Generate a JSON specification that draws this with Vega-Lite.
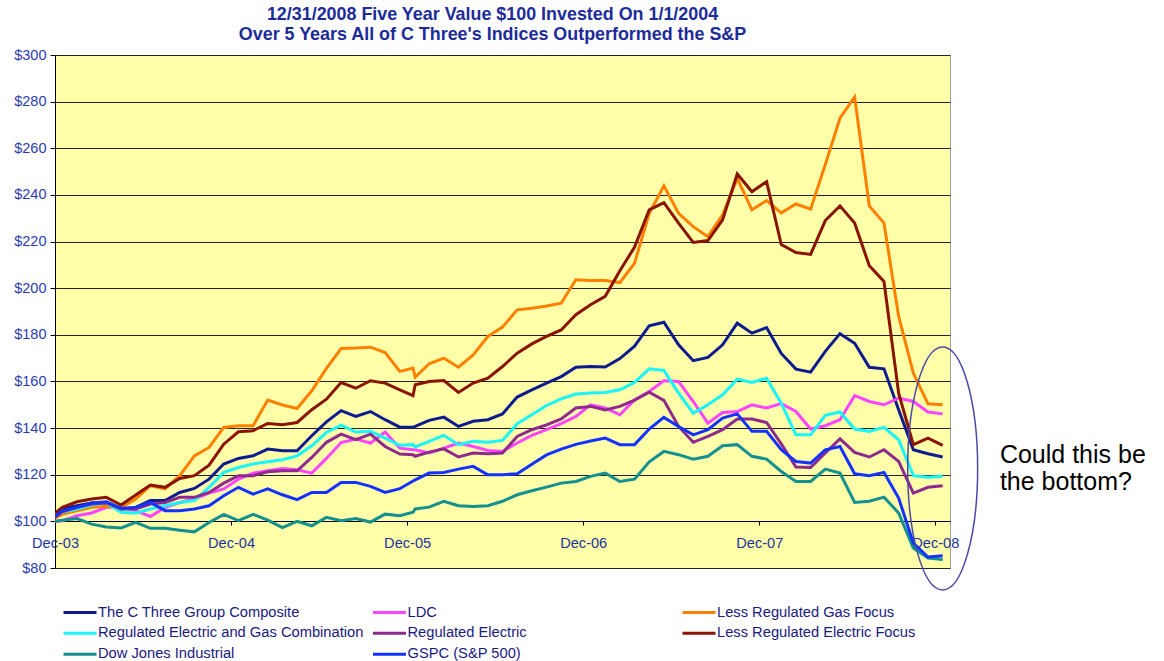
{
"$schema":"https://vega.github.io/schema/vega-lite/v6.json",
"autosize":{"type":"none"},
"width":895,"height":513,
"padding":{"left":55,"top":55,"right":214,"bottom":93},
"background":"white",
"config":{"view":{"fill":"#FFFFAA","stroke":"#A0A0A0","strokeWidth":1},"font":"Liberation Sans"},
"title":{"text":["12/31/2008 Five Year Value $100 Invested On 1/1/2004","Over 5 Years All of C Three's Indices Outperformed the S&P"],"fontSize":17.9,"fontWeight":"bold","color":"#1C2B99","font":"Liberation Sans","lineHeight":20,"offset":3,"dx":-10,"anchor":"middle"},
"datasets":{
"names":[{"k":"C","series":"The C Three Group Composite"},{"k":"L","series":"LDC"},{"k":"G","series":"Less Regulated Gas Focus"},{"k":"R","series":"Regulated Electric and Gas Combination"},{"k":"E","series":"Regulated Electric"},{"k":"F","series":"Less Regulated Electric Focus"},{"k":"D","series":"Dow Jones Industrial"},{"k":"S","series":"GSPC (S&P 500)"}],
"notes":[{"m":60,"v":122.7,"label":["Could this be","the bottom?"],"tm":63.9,"tv":128.6}],
"pts":[
{"k":"C","m":-0.5,"v":103.1},{"k":"C","m":0,"v":105.3},{"k":"C","m":1,"v":106.7},{"k":"C","m":2,"v":107.9},{"k":"C","m":3,"v":108.1},{"k":"C","m":4,"v":105.3},{"k":"C","m":5,"v":106},{"k":"C","m":6,"v":108.9},{"k":"C","m":7,"v":108.9},{"k":"C","m":8,"v":112.4},{"k":"C","m":9,"v":114.1},{"k":"C","m":10,"v":118.1},{"k":"C","m":11,"v":124.6},{"k":"C","m":12,"v":127},{"k":"C","m":13,"v":128.1},{"k":"C","m":14,"v":131},{"k":"C","m":15,"v":130.3},{"k":"C","m":16,"v":130.3},{"k":"C","m":17,"v":136.7},{"k":"C","m":18,"v":142.7},{"k":"C","m":19,"v":147.5},{"k":"C","m":20,"v":145},{"k":"C","m":21,"v":147.1},{"k":"C","m":22,"v":143.6},{"k":"C","m":23,"v":140.4},{"k":"C","m":23.9,"v":140.4},{"k":"C","m":24.05,"v":140.7},{"k":"C","m":25,"v":143.3},{"k":"C","m":26,"v":144.7},{"k":"C","m":27,"v":140.7},{"k":"C","m":28,"v":142.9},{"k":"C","m":29,"v":143.6},{"k":"C","m":30,"v":146.1},{"k":"C","m":31,"v":153.3},{"k":"C","m":32,"v":156.4},{"k":"C","m":33,"v":159.3},{"k":"C","m":34,"v":162.1},{"k":"C","m":35,"v":166.1},{"k":"C","m":36,"v":166.4},{"k":"C","m":37,"v":166.2},{"k":"C","m":38,"v":169.8},{"k":"C","m":39,"v":175.1},{"k":"C","m":40,"v":183.9},{"k":"C","m":41,"v":185.4},{"k":"C","m":42,"v":175.7},{"k":"C","m":43,"v":168.9},{"k":"C","m":44,"v":170.3},{"k":"C","m":45,"v":175.7},{"k":"C","m":46,"v":185},{"k":"C","m":47,"v":180.7},{"k":"C","m":48,"v":183.1},{"k":"C","m":49,"v":172},{"k":"C","m":50,"v":165.3},{"k":"C","m":51,"v":164},{"k":"C","m":52,"v":172.9},{"k":"C","m":53,"v":180.5},{"k":"C","m":54,"v":176.4},{"k":"C","m":55,"v":166.1},{"k":"C","m":56,"v":165.4},{"k":"C","m":57,"v":147.9},{"k":"C","m":58,"v":130.7},{"k":"C","m":59,"v":129},{"k":"C","m":60,"v":127.6},
{"k":"L","m":-0.5,"v":100},{"k":"L","m":0,"v":100.3},{"k":"L","m":1,"v":102.4},{"k":"L","m":2,"v":103.6},{"k":"L","m":3,"v":106},{"k":"L","m":4,"v":106},{"k":"L","m":5,"v":104.6},{"k":"L","m":6,"v":102.1},{"k":"L","m":7,"v":106},{"k":"L","m":8,"v":108.1},{"k":"L","m":9,"v":109.6},{"k":"L","m":10,"v":112.1},{"k":"L","m":11,"v":113.9},{"k":"L","m":12,"v":118.1},{"k":"L","m":13,"v":120.7},{"k":"L","m":14,"v":121.7},{"k":"L","m":15,"v":122.7},{"k":"L","m":16,"v":122.1},{"k":"L","m":17,"v":120.7},{"k":"L","m":18,"v":127},{"k":"L","m":19,"v":133.8},{"k":"L","m":20,"v":135.3},{"k":"L","m":21,"v":133.6},{"k":"L","m":22,"v":138.3},{"k":"L","m":23,"v":131.4},{"k":"L","m":23.9,"v":130.7},{"k":"L","m":24.05,"v":130.7},{"k":"L","m":25,"v":129.3},{"k":"L","m":26,"v":131.4},{"k":"L","m":27,"v":133.6},{"k":"L","m":28,"v":132.1},{"k":"L","m":29,"v":130.4},{"k":"L","m":30,"v":130},{"k":"L","m":31,"v":133.6},{"k":"L","m":32,"v":136.9},{"k":"L","m":33,"v":139.3},{"k":"L","m":34,"v":141.9},{"k":"L","m":35,"v":145},{"k":"L","m":36,"v":150},{"k":"L","m":37,"v":148.6},{"k":"L","m":38,"v":145.7},{"k":"L","m":39,"v":152.1},{"k":"L","m":40,"v":155.7},{"k":"L","m":41,"v":160.3},{"k":"L","m":42,"v":160},{"k":"L","m":43,"v":151.4},{"k":"L","m":44,"v":142.1},{"k":"L","m":45,"v":146.7},{"k":"L","m":46,"v":147.1},{"k":"L","m":47,"v":150},{"k":"L","m":48,"v":148.6},{"k":"L","m":49,"v":150.5},{"k":"L","m":50,"v":147.1},{"k":"L","m":51,"v":139.6},{"k":"L","m":52,"v":141},{"k":"L","m":53,"v":143.6},{"k":"L","m":54,"v":153.9},{"k":"L","m":55,"v":151.4},{"k":"L","m":56,"v":150},{"k":"L","m":57,"v":152.9},{"k":"L","m":58,"v":151.4},{"k":"L","m":59,"v":146.9},{"k":"L","m":60,"v":146.1},
{"k":"G","m":-0.5,"v":101.5},{"k":"G","m":0,"v":103},{"k":"G","m":1,"v":104.5},{"k":"G","m":2,"v":106},{"k":"G","m":3,"v":106.5},{"k":"G","m":4,"v":106},{"k":"G","m":5,"v":109.6},{"k":"G","m":6,"v":115.3},{"k":"G","m":7,"v":113.9},{"k":"G","m":8,"v":119.6},{"k":"G","m":9,"v":128.1},{"k":"G","m":10,"v":131.7},{"k":"G","m":11,"v":140.3},{"k":"G","m":12,"v":141},{"k":"G","m":13,"v":141},{"k":"G","m":14,"v":152},{"k":"G","m":15,"v":149.9},{"k":"G","m":16,"v":148.4},{"k":"G","m":17,"v":156},{"k":"G","m":18,"v":165.6},{"k":"G","m":19,"v":174.1},{"k":"G","m":20,"v":174.3},{"k":"G","m":21,"v":174.7},{"k":"G","m":22,"v":172.4},{"k":"G","m":23,"v":164.3},{"k":"G","m":23.9,"v":165.7},{"k":"G","m":24.05,"v":161.9},{"k":"G","m":25,"v":167.6},{"k":"G","m":26,"v":170},{"k":"G","m":27,"v":166.1},{"k":"G","m":28,"v":171.4},{"k":"G","m":29,"v":179.3},{"k":"G","m":30,"v":183.3},{"k":"G","m":31,"v":190.7},{"k":"G","m":32,"v":191.4},{"k":"G","m":33,"v":192.4},{"k":"G","m":34,"v":193.6},{"k":"G","m":35,"v":203.6},{"k":"G","m":36,"v":203.3},{"k":"G","m":37,"v":203.3},{"k":"G","m":38,"v":202.4},{"k":"G","m":39,"v":210.7},{"k":"G","m":40,"v":232.1},{"k":"G","m":41,"v":243.9},{"k":"G","m":42,"v":232.1},{"k":"G","m":43,"v":226.4},{"k":"G","m":44,"v":222.1},{"k":"G","m":45,"v":231.4},{"k":"G","m":46,"v":247.1},{"k":"G","m":47,"v":233.6},{"k":"G","m":48,"v":237.6},{"k":"G","m":49,"v":232.3},{"k":"G","m":50,"v":236.1},{"k":"G","m":51,"v":233.9},{"k":"G","m":52,"v":253},{"k":"G","m":53,"v":272.9},{"k":"G","m":54,"v":282},{"k":"G","m":55,"v":235.3},{"k":"G","m":56,"v":227.9},{"k":"G","m":57,"v":187.9},{"k":"G","m":58,"v":163.6},{"k":"G","m":59,"v":150.4},{"k":"G","m":60,"v":150},
{"k":"R","m":-0.5,"v":102.4},{"k":"R","m":0,"v":103.9},{"k":"R","m":1,"v":105.3},{"k":"R","m":2,"v":107},{"k":"R","m":3,"v":107.9},{"k":"R","m":4,"v":103.9},{"k":"R","m":5,"v":103.6},{"k":"R","m":6,"v":105.3},{"k":"R","m":7,"v":106.7},{"k":"R","m":8,"v":108.1},{"k":"R","m":9,"v":108.9},{"k":"R","m":10,"v":114.6},{"k":"R","m":11,"v":121},{"k":"R","m":12,"v":123.1},{"k":"R","m":13,"v":124.6},{"k":"R","m":14,"v":125.6},{"k":"R","m":15,"v":126.4},{"k":"R","m":16,"v":128.1},{"k":"R","m":17,"v":132.4},{"k":"R","m":18,"v":138.1},{"k":"R","m":19,"v":141.3},{"k":"R","m":20,"v":138.3},{"k":"R","m":21,"v":138.6},{"k":"R","m":22,"v":135.7},{"k":"R","m":23,"v":132.6},{"k":"R","m":23.9,"v":132.9},{"k":"R","m":24.05,"v":131.9},{"k":"R","m":25,"v":134.3},{"k":"R","m":26,"v":136.9},{"k":"R","m":27,"v":132.9},{"k":"R","m":28,"v":134.3},{"k":"R","m":29,"v":133.9},{"k":"R","m":30,"v":134.7},{"k":"R","m":31,"v":141.9},{"k":"R","m":32,"v":145.7},{"k":"R","m":33,"v":149.7},{"k":"R","m":34,"v":152.5},{"k":"R","m":35,"v":154.6},{"k":"R","m":36,"v":155},{"k":"R","m":37,"v":155.3},{"k":"R","m":38,"v":156.4},{"k":"R","m":39,"v":159.6},{"k":"R","m":40,"v":165.4},{"k":"R","m":41,"v":164.7},{"k":"R","m":42,"v":155},{"k":"R","m":43,"v":146.4},{"k":"R","m":44,"v":150},{"k":"R","m":45,"v":154.3},{"k":"R","m":46,"v":161},{"k":"R","m":47,"v":159.6},{"k":"R","m":48,"v":161.4},{"k":"R","m":49,"v":150.7},{"k":"R","m":50,"v":137.1},{"k":"R","m":51,"v":137.1},{"k":"R","m":52,"v":145.5},{"k":"R","m":53,"v":146.9},{"k":"R","m":54,"v":139.6},{"k":"R","m":55,"v":138.6},{"k":"R","m":56,"v":140.3},{"k":"R","m":57,"v":135},{"k":"R","m":58,"v":119.6},{"k":"R","m":59,"v":118.9},{"k":"R","m":60,"v":119.3},
{"k":"E","m":-0.5,"v":101.7},{"k":"E","m":0,"v":104.1},{"k":"E","m":1,"v":106},{"k":"E","m":2,"v":107.4},{"k":"E","m":3,"v":107.9},{"k":"E","m":4,"v":105.3},{"k":"E","m":5,"v":105.3},{"k":"E","m":6,"v":107.4},{"k":"E","m":7,"v":108.1},{"k":"E","m":8,"v":110.3},{"k":"E","m":9,"v":110.3},{"k":"E","m":10,"v":112.4},{"k":"E","m":11,"v":116.4},{"k":"E","m":12,"v":119.6},{"k":"E","m":13,"v":119.6},{"k":"E","m":14,"v":121.3},{"k":"E","m":15,"v":121.7},{"k":"E","m":16,"v":121.7},{"k":"E","m":17,"v":127.4},{"k":"E","m":18,"v":133.9},{"k":"E","m":19,"v":137.4},{"k":"E","m":20,"v":135},{"k":"E","m":21,"v":137.4},{"k":"E","m":22,"v":132.1},{"k":"E","m":23,"v":128.9},{"k":"E","m":23.9,"v":128.6},{"k":"E","m":24.05,"v":127.9},{"k":"E","m":25,"v":129.7},{"k":"E","m":26,"v":131.1},{"k":"E","m":27,"v":127.6},{"k":"E","m":28,"v":129.3},{"k":"E","m":29,"v":129},{"k":"E","m":30,"v":129.3},{"k":"E","m":31,"v":136.4},{"k":"E","m":32,"v":139.3},{"k":"E","m":33,"v":141.4},{"k":"E","m":34,"v":143.9},{"k":"E","m":35,"v":148.6},{"k":"E","m":36,"v":149.3},{"k":"E","m":37,"v":147.8},{"k":"E","m":38,"v":149.3},{"k":"E","m":39,"v":152},{"k":"E","m":40,"v":155.4},{"k":"E","m":41,"v":151.9},{"k":"E","m":42,"v":140.7},{"k":"E","m":43,"v":133.9},{"k":"E","m":44,"v":136.4},{"k":"E","m":45,"v":139.3},{"k":"E","m":46,"v":143.9},{"k":"E","m":47,"v":143.9},{"k":"E","m":48,"v":142.4},{"k":"E","m":49,"v":133.2},{"k":"E","m":50,"v":123.3},{"k":"E","m":51,"v":123.1},{"k":"E","m":52,"v":129.3},{"k":"E","m":53,"v":135.4},{"k":"E","m":54,"v":129.6},{"k":"E","m":55,"v":127.6},{"k":"E","m":56,"v":130.7},{"k":"E","m":57,"v":125.7},{"k":"E","m":58,"v":112.1},{"k":"E","m":59,"v":114.6},{"k":"E","m":60,"v":115.3},
{"k":"F","m":-0.5,"v":103.5},{"k":"F","m":0,"v":106},{"k":"F","m":1,"v":108.4},{"k":"F","m":2,"v":109.6},{"k":"F","m":3,"v":110.3},{"k":"F","m":4,"v":107},{"k":"F","m":5,"v":111.3},{"k":"F","m":6,"v":115.6},{"k":"F","m":7,"v":114.6},{"k":"F","m":8,"v":118.4},{"k":"F","m":9,"v":119.6},{"k":"F","m":10,"v":124.1},{"k":"F","m":11,"v":133.1},{"k":"F","m":12,"v":138.4},{"k":"F","m":13,"v":138.9},{"k":"F","m":14,"v":142},{"k":"F","m":15,"v":141.4},{"k":"F","m":16,"v":142.4},{"k":"F","m":17,"v":147.9},{"k":"F","m":18,"v":152.4},{"k":"F","m":19,"v":159.5},{"k":"F","m":20,"v":157.1},{"k":"F","m":21,"v":160.3},{"k":"F","m":22,"v":159.3},{"k":"F","m":23,"v":156.4},{"k":"F","m":23.9,"v":153.9},{"k":"F","m":24.05,"v":158.6},{"k":"F","m":25,"v":160},{"k":"F","m":26,"v":160.4},{"k":"F","m":27,"v":155.3},{"k":"F","m":28,"v":159.3},{"k":"F","m":29,"v":161.4},{"k":"F","m":30,"v":166.4},{"k":"F","m":31,"v":172.1},{"k":"F","m":32,"v":176.1},{"k":"F","m":33,"v":179.3},{"k":"F","m":34,"v":182.1},{"k":"F","m":35,"v":188.6},{"k":"F","m":36,"v":192.9},{"k":"F","m":37,"v":196.5},{"k":"F","m":38,"v":207.5},{"k":"F","m":39,"v":217.6},{"k":"F","m":40,"v":233.6},{"k":"F","m":41,"v":236.7},{"k":"F","m":42,"v":227.9},{"k":"F","m":43,"v":219.6},{"k":"F","m":44,"v":220.4},{"k":"F","m":45,"v":229.3},{"k":"F","m":46,"v":249},{"k":"F","m":47,"v":241.4},{"k":"F","m":48,"v":245.7},{"k":"F","m":49,"v":218.7},{"k":"F","m":50,"v":215.3},{"k":"F","m":51,"v":214.5},{"k":"F","m":52,"v":229},{"k":"F","m":53,"v":235.3},{"k":"F","m":54,"v":227.9},{"k":"F","m":55,"v":209.6},{"k":"F","m":56,"v":202.9},{"k":"F","m":57,"v":155},{"k":"F","m":58,"v":132.9},{"k":"F","m":59,"v":135.7},{"k":"F","m":60,"v":132.6},
{"k":"D","m":-0.5,"v":100},{"k":"D","m":0,"v":100.5},{"k":"D","m":1,"v":101.2},{"k":"D","m":2,"v":98.8},{"k":"D","m":3,"v":97.6},{"k":"D","m":4,"v":97.2},{"k":"D","m":5,"v":99.6},{"k":"D","m":6,"v":97},{"k":"D","m":7,"v":97},{"k":"D","m":8,"v":96.2},{"k":"D","m":9,"v":95.5},{"k":"D","m":10,"v":99.5},{"k":"D","m":11,"v":103},{"k":"D","m":12,"v":100.3},{"k":"D","m":13,"v":103},{"k":"D","m":14,"v":100.5},{"k":"D","m":15,"v":97.3},{"k":"D","m":16,"v":100},{"k":"D","m":17,"v":98.1},{"k":"D","m":18,"v":101.7},{"k":"D","m":19,"v":100.3},{"k":"D","m":20,"v":101.2},{"k":"D","m":21,"v":99.7},{"k":"D","m":22,"v":103.1},{"k":"D","m":23,"v":102.4},{"k":"D","m":23.9,"v":103.9},{"k":"D","m":24.05,"v":105.3},{"k":"D","m":25,"v":106.1},{"k":"D","m":26,"v":108.6},{"k":"D","m":27,"v":106.7},{"k":"D","m":28,"v":106.4},{"k":"D","m":29,"v":106.7},{"k":"D","m":30,"v":108.6},{"k":"D","m":31,"v":111.4},{"k":"D","m":32,"v":113.1},{"k":"D","m":33,"v":114.7},{"k":"D","m":34,"v":116.4},{"k":"D","m":35,"v":117.1},{"k":"D","m":36,"v":119.3},{"k":"D","m":37,"v":120.7},{"k":"D","m":38,"v":117.1},{"k":"D","m":39,"v":118.1},{"k":"D","m":40,"v":125.5},{"k":"D","m":41,"v":130},{"k":"D","m":42,"v":128.6},{"k":"D","m":43,"v":126.7},{"k":"D","m":44,"v":127.9},{"k":"D","m":45,"v":132.4},{"k":"D","m":46,"v":132.9},{"k":"D","m":47,"v":127.9},{"k":"D","m":48,"v":126.7},{"k":"D","m":49,"v":121.4},{"k":"D","m":50,"v":117.1},{"k":"D","m":51,"v":117.1},{"k":"D","m":52,"v":122.4},{"k":"D","m":53,"v":120.7},{"k":"D","m":54,"v":108.1},{"k":"D","m":55,"v":108.6},{"k":"D","m":56,"v":110.4},{"k":"D","m":57,"v":103.6},{"k":"D","m":58,"v":88.6},{"k":"D","m":59,"v":84.3},{"k":"D","m":60,"v":83.6},
{"k":"S","m":-0.5,"v":102},{"k":"S","m":0,"v":104.6},{"k":"S","m":1,"v":106},{"k":"S","m":2,"v":107.9},{"k":"S","m":3,"v":108.4},{"k":"S","m":4,"v":105.6},{"k":"S","m":5,"v":106},{"k":"S","m":6,"v":108.1},{"k":"S","m":7,"v":104.6},{"k":"S","m":8,"v":104.6},{"k":"S","m":9,"v":105.3},{"k":"S","m":10,"v":106.7},{"k":"S","m":11,"v":111},{"k":"S","m":12,"v":114.6},{"k":"S","m":13,"v":111.7},{"k":"S","m":14,"v":113.9},{"k":"S","m":15,"v":111.4},{"k":"S","m":16,"v":109.3},{"k":"S","m":17,"v":112.4},{"k":"S","m":18,"v":112.4},{"k":"S","m":19,"v":116.7},{"k":"S","m":20,"v":116.7},{"k":"S","m":21,"v":115},{"k":"S","m":22,"v":112.4},{"k":"S","m":23,"v":114},{"k":"S","m":23.9,"v":117.3},{"k":"S","m":24.05,"v":117.8},{"k":"S","m":25,"v":120.7},{"k":"S","m":26,"v":121},{"k":"S","m":27,"v":122.4},{"k":"S","m":28,"v":123.6},{"k":"S","m":29,"v":120},{"k":"S","m":30,"v":120},{"k":"S","m":31,"v":120.4},{"k":"S","m":32,"v":124.5},{"k":"S","m":33,"v":128.5},{"k":"S","m":34,"v":131},{"k":"S","m":35,"v":133},{"k":"S","m":36,"v":134.5},{"k":"S","m":37,"v":135.7},{"k":"S","m":38,"v":132.9},{"k":"S","m":39,"v":132.9},{"k":"S","m":40,"v":139.6},{"k":"S","m":41,"v":144.6},{"k":"S","m":42,"v":140.7},{"k":"S","m":43,"v":137.1},{"k":"S","m":44,"v":139.3},{"k":"S","m":45,"v":144.3},{"k":"S","m":46,"v":146.1},{"k":"S","m":47,"v":138.6},{"k":"S","m":48,"v":138.6},{"k":"S","m":49,"v":130.7},{"k":"S","m":50,"v":125.7},{"k":"S","m":51,"v":125},{"k":"S","m":52,"v":130.7},{"k":"S","m":53,"v":132.1},{"k":"S","m":54,"v":120.4},{"k":"S","m":55,"v":119.6},{"k":"S","m":56,"v":121},{"k":"S","m":57,"v":110},{"k":"S","m":58,"v":90.7},{"k":"S","m":59,"v":84.7},{"k":"S","m":60,"v":85.3}
]},
"layer":[
{"data":{"name":"pts"},
"transform":[{"lookup":"k","from":{"data":{"name":"names"},"key":"k","fields":["series"]}}],
"mark":{"type":"line","strokeWidth":3,"clip":true},
"encoding":{
"x":{"field":"m","type":"quantitative","scale":{"domain":[-0.5,60.5],"nice":false,"zero":false},
"axis":{"title":null,"values":[-0.5,11.5,23.5,35.5,47.5,59.5],"labelExpr":"['Dec-03','Dec-04','Dec-05','Dec-06','Dec-07','Dec-08'][round((datum.value+0.5)/12)]","labelFlush":false,"labelDx":7,"labelAlign":"center","offset":-47,"grid":false,"domainColor":"#000000","tickColor":"#000000","tickSize":4,"labelPadding":10,"labelColor":"#2233A0","labelFontSize":14.6,"labelFont":"Liberation Sans"}},
"y":{"field":"v","type":"quantitative","scale":{"domain":[80,300],"nice":false,"zero":false},
"axis":{"title":null,"values":[80,100,120,140,160,180,200,220,240,260,280,300],"labelExpr":"'$' + datum.value","grid":true,"gridColor":"#222222","gridWidth":1,"gridOpacity":1,"domainColor":"#000000","tickColor":"#000000","tickSize":5,"labelPadding":4,"labelColor":"#2B3BB0","labelFontSize":14.5,"labelFont":"Liberation Sans"}},
"color":{"field":"series","type":"nominal","sort":null,
"scale":{"domain":["The C Three Group Composite","LDC","Less Regulated Gas Focus","Regulated Electric and Gas Combination","Regulated Electric","Less Regulated Electric Focus","Dow Jones Industrial","GSPC (S&P 500)"],
"range":["#0D1B8F","#FF44FF","#FF8000","#19F5F8","#8E2A8E","#8B1400","#13908F","#1432FF"]},
"legend":{"title":null,"orient":"none","direction":"horizontal","legendX":7,"legendY":547,"columns":3,"gridAlign":"all","symbolType":"stroke","symbolSize":1089,"symbolStrokeWidth":3,"clipHeight":20.5,"labelFontSize":14.7,"labelFont":"Liberation Sans","labelColor":"#1A1A80","labelOffset":0,"labelLimit":400,"columnPadding":7.5,"rowPadding":0}}
}},
{"data":{"name":"notes"},
"mark":{"type":"point","shape":"M0,-1 A0.288,1 0 1,1 0,1 A0.288,1 0 1,1 0,-1 Z","filled":false,"stroke":"#4A4AA8","strokeWidth":1.5,"size":59049,"opacity":1,"clip":false},
"encoding":{"x":{"field":"m","type":"quantitative"},"y":{"field":"v","type":"quantitative"}}},
{"data":{"name":"notes"},
"mark":{"type":"text","align":"left","baseline":"middle","fontSize":25,"lineHeight":27,"font":"Liberation Sans","color":"#000000","clip":false},
"encoding":{"x":{"field":"tm","type":"quantitative"},"y":{"field":"tv","type":"quantitative"},"text":{"field":"label"}}}
]
}
